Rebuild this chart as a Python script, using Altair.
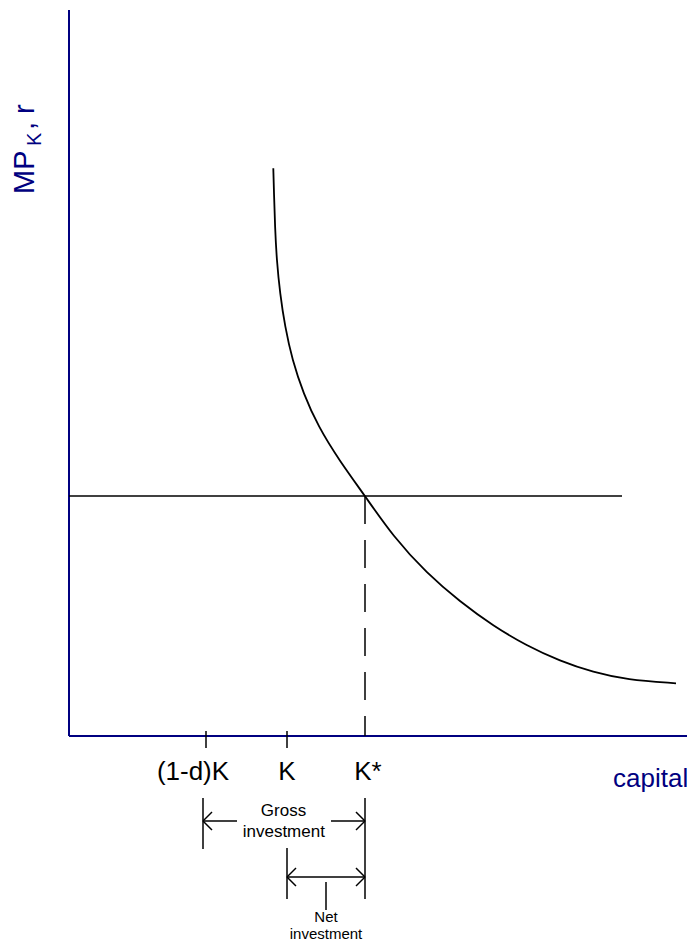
import altair as alt
import pandas as pd

# ---- data (capital measured from the origin, MP_K measured from the capital axis) ----
curve_capital = [204.3, 205.0, 206.0, 207.7, 211.0, 216.0, 223.3, 234.3, 249.3, 270.0,
                 296.0, 324.3, 357.7, 391.0, 424.3, 457.7, 491.0, 524.3, 557.7, 607.0]
curve_mpk = [567.7, 542.7, 509.3, 476.0, 442.7, 409.3, 376.0, 342.7, 309.3, 276.0,
             240.0, 199.3, 162.7, 134.3, 110.0, 90.3, 75.0, 63.7, 56.3, 52.7]

# solid black line segments: r line, ticks, brackets, arrows
seg_x1 = [0, 137, 218, 134, 296, 134, 262, 134, 134, 296, 296,
          218, 218, 218, 218, 296, 296, 257]
seg_y1 = [240, 5, 5, -62, -62, -85, -85, -85, -85, -85, -85,
          -112, -141, -141, -141, -141, -141, -146]
seg_x2 = [553, 137, 218, 134, 296, 168, 296, 143, 143, 287, 287,
          218, 296, 227, 227, 287, 287, 257]
seg_y2 = [240, -12, -12, -113, -163, -85, -85, -76, -94, -76, -94,
          -163, -141, -132, -150, -132, -150, -174]
seg_w = [1.5] * len(seg_x1)

# dashed K* line
dash_x1, dash_y1, dash_x2, dash_y2 = [296], [240], [296], [0]

# axes
axis_x1 = [0, 0]
axis_y1 = [726, 0]
axis_x2 = [0, 618]
axis_y2 = [0, 0]

# tick labels
tick_labels = ["(1-d)K", "K", "K*"]
tick_label_x = [124, 218, 299]
tick_label_y = [-44, -44, -44]

# small annotation texts
note_text = ["Gross", "investment", "Net", "investment"]
note_x = [214.5, 214.8, 257, 257]
note_y = [-80, -100.7, -186, -203]
note_size = [17, 17, 15, 15]

# axis title parts (MP_K, r)
ytitle_text = ["MP", "K", ", r"]
ytitle_x = [-35, -28, -35]
ytitle_y = [542, 590, 606]
ytitle_size = [29, 20, 29]

NAVY = "#000080"
FONT = "Liberation Sans"

X = alt.Scale(domain=[-61, 618], nice=False, zero=False)
Y = alt.Scale(domain=[-207, 728], nice=False, zero=False)


def seg_df(x1, y1, x2, y2, w):
    return pd.DataFrame({"x1": x1, "y1": y1, "x2": x2, "y2": y2, "w": w})


def seg_layer(df, color, dash=None):
    kw = {"color": color, "strokeCap": "butt"}
    if dash:
        kw["strokeDash"] = dash
    return alt.Chart(df).mark_rule(**kw).encode(
        x=alt.X("x1:Q", scale=X, axis=None),
        y=alt.Y("y1:Q", scale=Y, axis=None),
        x2="x2:Q",
        y2="y2:Q",
        strokeWidth=alt.StrokeWidth("w:Q", scale=None),
    )


axes = seg_layer(seg_df(axis_x1, axis_y1, axis_x2, axis_y2, [2, 2]), NAVY)
solid = seg_layer(seg_df(seg_x1, seg_y1, seg_x2, seg_y2, seg_w), "black")
dashed = seg_layer(seg_df(dash_x1, dash_y1, dash_x2, dash_y2, [1.5]), "black", dash=[28, 16])

curve = alt.Chart(pd.DataFrame({"k": curve_capital, "m": curve_mpk})).mark_line(
    color="black", strokeWidth=1.8, interpolate="basis"
).encode(
    x=alt.X("k:Q", scale=X, axis=None),
    y=alt.Y("m:Q", scale=Y, axis=None),
    order="k:Q",
)

ticks_txt = alt.Chart(pd.DataFrame({"t": tick_labels, "x": tick_label_x, "y": tick_label_y})).mark_text(
    font=FONT, fontSize=26, color="black", align="center", baseline="alphabetic"
).encode(x=alt.X("x:Q", scale=X, axis=None), y=alt.Y("y:Q", scale=Y, axis=None), text="t:N")

cap_txt = alt.Chart(pd.DataFrame({"t": ["capital"], "x": [544], "y": [-51]})).mark_text(
    font=FONT, fontSize=26, color=NAVY, align="left", baseline="alphabetic"
).encode(x=alt.X("x:Q", scale=X, axis=None), y=alt.Y("y:Q", scale=Y, axis=None), text="t:N")

notes = alt.Chart(pd.DataFrame({"t": note_text, "x": note_x, "y": note_y, "s": note_size})).mark_text(
    font=FONT, color="black", align="center", baseline="alphabetic"
).encode(
    x=alt.X("x:Q", scale=X, axis=None),
    y=alt.Y("y:Q", scale=Y, axis=None),
    text="t:N",
    size=alt.Size("s:Q", scale=None),
)

ytitle = alt.Chart(pd.DataFrame({"t": ytitle_text, "x": ytitle_x, "y": ytitle_y, "s": ytitle_size})).mark_text(
    font=FONT, color=NAVY, align="left", baseline="alphabetic", angle=270
).encode(
    x=alt.X("x:Q", scale=X, axis=None),
    y=alt.Y("y:Q", scale=Y, axis=None),
    text="t:N",
    size=alt.Size("s:Q", scale=None),
)

chart = alt.layer(axes, solid, dashed, curve, ticks_txt, cap_txt, notes, ytitle).properties(
    width=679, height=935, padding=0, autosize=alt.AutoSizeParams(type="none")
).configure_view(stroke=None)

chart.save("out.html", embed_options={"renderer": "svg", "actions": False})
